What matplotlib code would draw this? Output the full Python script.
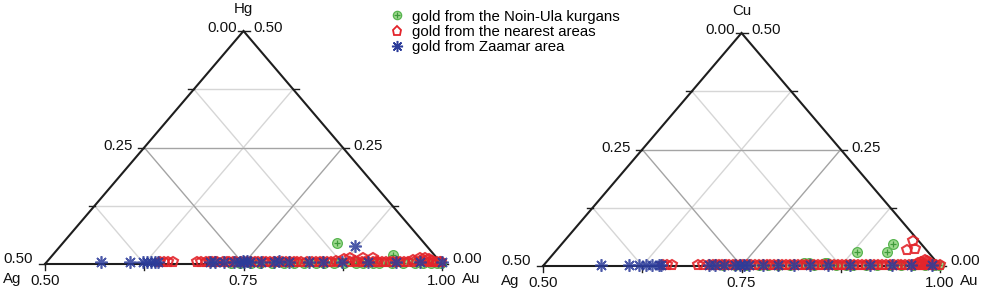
import matplotlib
matplotlib.use('Agg')
import matplotlib.pyplot as plt
from matplotlib.lines import Line2D
from matplotlib.legend_handler import HandlerTuple

plt.rcParams['font.family'] = ['Liberation Sans', 'DejaVu Sans']
FS = 10.8

# ---------------- data (mass fractions) ----------------
# Left diagram: Au - Ag - Hg   (Ag = 1 - Au - Hg)
noin_au_L = [0.733, 0.745, 0.758, 0.770, 0.785, 0.800, 0.812, 0.825, 0.840, 0.850,
             0.862, 0.875, 0.890, 0.900, 0.912, 0.920, 0.935, 0.950, 0.965, 0.975,
             0.985, 0.993, 0.998, 0.845, 0.929]
noin_hg_L = [0.002, 0.002, 0.003, 0.002, 0.003, 0.002, 0.003, 0.002, 0.003, 0.002,
             0.003, 0.002, 0.003, 0.002, 0.003, 0.002, 0.003, 0.002, 0.003, 0.002,
             0.003, 0.002, 0.002, 0.045, 0.019]

near_au_L = [0.643, 0.648, 0.653, 0.659, 0.689, 0.695, 0.701, 0.705, 0.708, 0.712,
             0.715, 0.722, 0.727, 0.730, 0.735, 0.738, 0.745, 0.752, 0.758, 0.762,
             0.766, 0.773, 0.776, 0.781, 0.786, 0.791, 0.796, 0.801, 0.806, 0.811,
             0.816, 0.821, 0.828, 0.834, 0.839, 0.844, 0.848, 0.853, 0.858, 0.863,
             0.868, 0.872, 0.878, 0.882, 0.887, 0.890, 0.894, 0.897, 0.900, 0.904,
             0.907, 0.911, 0.914, 0.918, 0.922, 0.927, 0.932, 0.936, 0.941, 0.945,
             0.950, 0.955, 0.960, 0.963, 0.966, 0.969, 0.972, 0.976, 0.979, 0.982,
             0.985, 0.988, 0.992, 0.995, 0.997]
near_hg_L = [0.004, 0.004, 0.004, 0.004, 0.004, 0.004, 0.004, 0.004, 0.004, 0.004,
             0.004, 0.004, 0.004, 0.004, 0.004, 0.004, 0.004, 0.004, 0.004, 0.004,
             0.004, 0.004, 0.004, 0.004, 0.004, 0.004, 0.004, 0.004, 0.004, 0.004,
             0.004, 0.004, 0.004, 0.004, 0.004, 0.004, 0.004, 0.004, 0.004, 0.006,
             0.004, 0.010, 0.013, 0.004, 0.006, 0.004, 0.013, 0.004, 0.005, 0.004,
             0.012, 0.004, 0.005, 0.004, 0.004, 0.004, 0.004, 0.004, 0.004, 0.004,
             0.005, 0.004, 0.008, 0.004, 0.012, 0.006, 0.013, 0.006, 0.010, 0.004,
             0.006, 0.004, 0.004, 0.004, 0.004]

zaam_au_L = [0.569, 0.605, 0.622, 0.627, 0.632, 0.637, 0.640, 0.706, 0.712, 0.724,
             0.736, 0.743, 0.746, 0.749, 0.752, 0.756, 0.770, 0.786, 0.792, 0.805,
             0.830, 0.848, 0.872, 0.905, 0.940, 0.970, 0.998, 0.871]
zaam_hg_L = [0.004, 0.004, 0.004, 0.004, 0.004, 0.004, 0.004, 0.004, 0.004, 0.004,
             0.004, 0.005, 0.007, 0.004, 0.006, 0.005, 0.004, 0.004, 0.006, 0.004,
             0.004, 0.004, 0.004, 0.004, 0.004, 0.004, 0.004, 0.039]

# Right diagram: Au - Ag - Cu   (Ag = 1 - Au - Cu)
noin_au_R = [0.725, 0.740, 0.755, 0.770, 0.782, 0.795, 0.810, 0.826, 0.832, 0.840,
             0.852, 0.855, 0.868, 0.880, 0.890, 0.905, 0.920, 0.935, 0.950, 0.965,
             0.980, 0.992, 0.998, 0.8805, 0.918, 0.917]
noin_cu_R = [0.003, 0.003, 0.002, 0.003, 0.002, 0.003, 0.003, 0.006, 0.006, 0.003,
             0.006, 0.006, 0.002, 0.003, 0.002, 0.003, 0.002, 0.003, 0.002, 0.003,
             0.002, 0.002, 0.002, 0.030, 0.030, 0.047]

near_au_R = [0.650, 0.655, 0.661, 0.694, 0.700, 0.707, 0.712, 0.716, 0.720, 0.724,
             0.729, 0.733, 0.738, 0.742, 0.746, 0.750, 0.755, 0.760, 0.765, 0.770,
             0.775, 0.780, 0.785, 0.790, 0.795, 0.800, 0.805, 0.810, 0.815, 0.820,
             0.825, 0.830, 0.835, 0.840, 0.845, 0.850, 0.855, 0.860, 0.865, 0.870,
             0.875, 0.880, 0.885, 0.890, 0.895, 0.900, 0.905, 0.910, 0.915, 0.920,
             0.925, 0.930, 0.935, 0.940, 0.945, 0.950, 0.955, 0.960, 0.964, 0.968,
             0.972, 0.975, 0.978, 0.982, 0.985, 0.988, 0.991, 0.994, 0.998, 0.939,
             0.9415, 0.9505, 0.9745, 0.972, 0.978, 0.980, 0.969]
near_cu_R = [0.003, 0.003, 0.003, 0.003, 0.003, 0.003, 0.003, 0.003, 0.003, 0.003,
             0.003, 0.003, 0.003, 0.003, 0.003, 0.003, 0.003, 0.003, 0.003, 0.003,
             0.003, 0.003, 0.003, 0.003, 0.003, 0.003, 0.003, 0.003, 0.003, 0.003,
             0.003, 0.003, 0.003, 0.003, 0.003, 0.003, 0.003, 0.003, 0.003, 0.003,
             0.003, 0.003, 0.003, 0.003, 0.003, 0.003, 0.003, 0.003, 0.003, 0.003,
             0.003, 0.003, 0.003, 0.003, 0.003, 0.003, 0.003, 0.003, 0.003, 0.003,
             0.003, 0.003, 0.003, 0.003, 0.003, 0.003, 0.003, 0.003, 0.003, 0.054,
             0.034, 0.036, 0.013, 0.008, 0.010, 0.006, 0.007]

zaam_au_R = [0.572, 0.607, 0.620, 0.628, 0.636, 0.644, 0.647, 0.708, 0.715, 0.726,
             0.740, 0.746, 0.752, 0.758, 0.775, 0.795, 0.815, 0.835, 0.858, 0.885,
             0.910, 0.938, 0.962, 0.988]
zaam_cu_R = [0.003, 0.003, 0.003, 0.003, 0.003, 0.003, 0.003, 0.003, 0.003, 0.003,
             0.003, 0.003, 0.003, 0.003, 0.003, 0.003, 0.003, 0.003, 0.003, 0.003,
             0.003, 0.003, 0.003, 0.003]

labels = ['gold from the Noin-Ula kurgans', 'gold from the nearest areas',
          'gold from Zaamar area']

# ---------------- styles ----------------
G_FACE, G_EDGE, G_PLUS = '#9fd98f', '#56b44e', '#3e9a3a'
R_COL = '#e3242b'
B_COL = '#2c3c9a'
G_MS, R_MS, B_MS = 7.0, 7.5, 9.0


def to_xy(au, third):
    """Map (Au, third component) inside the Au>=0.5 sub-triangle to unit coords."""
    xs = [2 * a - 1 + t for a, t in zip(au, third)]
    ys = [2 * t for t in third]
    return xs, ys


def frame(ax, top_label, wpx, hpx):
    ax.set_xlim(0, 1)
    ax.set_ylim(0, 1)
    ax.axis('off')
    for f, col in [(0.25, '#d6d6d6'), (0.5, '#a4a4a4'), (0.75, '#d6d6d6')]:
        kw = dict(color=col, lw=1.0, zorder=1)
        ax.plot([f / 2, 1 - f / 2], [f, f], **kw)
        ax.plot([f, f + (1 - f) / 2], [0, 1 - f], **kw)
        ax.plot([1 - f, (1 - f) / 2], [0, 1 - f], **kw)
    ax.plot([0, 1, 0.5, 0], [0, 0, 1, 0], color='#1e1e1e', lw=1.5,
            zorder=2, clip_on=False, solid_joinstyle='miter')
    tx, ty = 6 / wpx, 6 / hpx
    for f in [0, 0.25, 0.5, 0.75, 1.0]:
        xl, yl = (1 - f) * 0.5, 1 - f
        ax.plot([xl, xl - tx], [yl, yl], color='#1e1e1e', lw=1.0, clip_on=False)
        xr, yr = 1 - f * 0.5, f
        ax.plot([xr, xr + tx], [yr, yr], color='#1e1e1e', lw=1.0, clip_on=False)
        ax.plot([f, f], [0, -ty], color='#1e1e1e', lw=1.0, clip_on=False)

    def lab(s, xy, dx, dy, ha):
        ax.annotate(s, xy=xy, xytext=(dx * 0.72, dy * 0.72),
                    textcoords='offset points', ha=ha, va='center',
                    fontsize=FS, color='#111111', annotation_clip=False)

    lab(top_label, (0.5, 1), 0, 22, 'center')
    lab('0.00', (0.5, 1), -7, 3, 'right')
    lab('0.50', (0.5, 1), 10, 3, 'left')
    lab('0.25', (0.25, 0.5), -12, 2, 'right')
    lab('0.25', (0.75, 0.5), 11, 2, 'left')
    lab('0.50', (0, 0), -12, 5, 'right')
    lab('Ag', (0, 0), -33, -15, 'center')
    lab('0.50', (0, 0), 0, -17, 'center')
    lab('0.75', (0.5, 0), 0, -17, 'center')
    lab('1.00', (1, 0), 0, -17, 'center')
    lab('Au', (1, 0), 20, -15, 'left')
    lab('0.00', (1, 0), 10, 5, 'left')


def scatter_all(ax, sets):
    (gau, gt), (rau, rt), (bau, bt) = sets
    gx, gy = to_xy(gau, gt)
    ax.plot(gx, gy, 'o', ms=G_MS, mfc=G_FACE, mec=G_EDGE, mew=0.9,
            zorder=3, clip_on=False)
    ax.plot(gx, gy, '+', ms=G_MS * 0.7, mec=G_PLUS, mew=0.9, zorder=3,
            clip_on=False)
    rx, ry = to_xy(rau, rt)
    ax.plot(rx, ry, 'p', ms=R_MS, mfc='none', mec=R_COL, mew=1.5, alpha=0.9,
            zorder=4, clip_on=False)
    bx, by = to_xy(bau, bt)
    ax.plot(bx, by, marker=(8, 2, 0), ls='none', ms=B_MS, mec=B_COL, mew=1.2,
            alpha=0.85, zorder=5, clip_on=False)


W, H = 981, 294
fig = plt.figure(figsize=(W / 100, H / 100), dpi=100)

wpx, hpx = 397, 233
axL = fig.add_axes([45 / W, (H - 264) / H, wpx / W, hpx / H])
frame(axL, 'Hg', wpx, hpx)
scatter_all(axL, [(noin_au_L, noin_hg_L), (near_au_L, near_hg_L),
                  (zaam_au_L, zaam_hg_L)])

axR = fig.add_axes([543 / W, (H - 266) / H, wpx / W, hpx / H])
frame(axR, 'Cu', wpx, hpx)
scatter_all(axR, [(noin_au_R, noin_cu_R), (near_au_R, near_cu_R),
                  (zaam_au_R, zaam_cu_R)])

h_g = (Line2D([], [], ls='none', marker='o', ms=6.0, mfc=G_FACE, mec=G_EDGE, mew=0.9),
       Line2D([], [], ls='none', marker='+', ms=4.2, mec=G_PLUS, mew=0.9))
h_r = Line2D([], [], ls='none', marker='p', ms=6.5, mfc='none', mec=R_COL, mew=1.3)
h_b = Line2D([], [], ls='none', marker=(8, 2, 0), ms=8, mec=B_COL, mew=1.1)
fig.legend([h_g, h_r, h_b], labels, loc='upper left',
           bbox_to_anchor=(389.5 / W, 1 - 9.5 / H), frameon=False,
           fontsize=FS, handlelength=1.0, handletextpad=0.5, labelspacing=0.1,
           borderpad=0, borderaxespad=0,
           handler_map={tuple: HandlerTuple(ndivide=1)})

fig.savefig('out.png', dpi=100)
